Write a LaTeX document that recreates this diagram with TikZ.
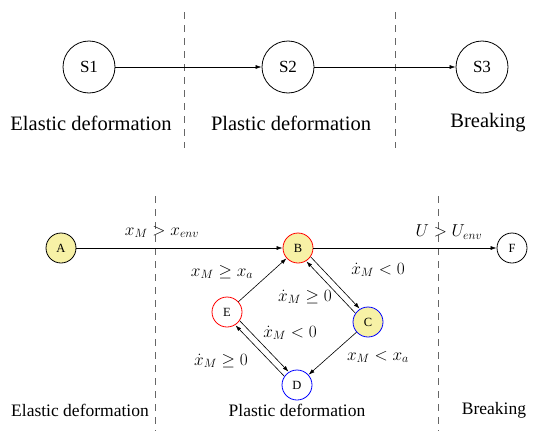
\documentclass[tikz,border=0pt]{standalone}
\usepackage[no-math]{fontspec}
\setmainfont{Liberation Serif}
\usetikzlibrary{arrows.meta,calc}
\begin{document}
\begin{tikzpicture}[x=1pt,y=-1pt,
  st/.style={circle,draw,line width=0.8pt,minimum size=52pt,inner sep=0pt,font=\fontsize{17}{20}\selectfont},
  sm/.style={circle,draw,line width=0.8pt,minimum size=30pt,inner sep=0pt,font=\fontsize{12.5}{14}\selectfont},
  arr/.style={-{Latex[length=6pt,width=4pt]},line width=0.6pt},
  dsh/.style={dashed,dash pattern=on 7pt off 6pt,line width=0.6pt,gray!80!black},
  toplab/.style={font=\fontsize{20.5}{24}\selectfont},
  botlab/.style={font=\fontsize{17.5}{20}\selectfont},
  ml/.style={font=\fontsize{17}{20}\selectfont,inner sep=1pt}]
\useasboundingbox (0,0) rectangle (534,431);
\definecolor{yfill}{HTML}{F7F1A6}
% top
\coordinate (t1a) at (184,12); \coordinate (t1b) at (184,148);
\coordinate (t2a) at (395,12); \coordinate (t2b) at (395,148);
\draw[dsh] (t1a) -- (t1b);
\draw[dsh] (t2a) -- (t2b);
\node[st] (S1) at (89,67) {S1};
\node[st] (S2) at (288,67) {S2};
\node[st] (S3) at (482,67) {S3};
\draw[arr] (S1) -- (S2);
\draw[arr] (S2) -- (S3);
\node[toplab] (l1) at (91,123) {Elastic deformation};
\node[toplab] (l2) at (291,123) {Plastic deformation};
\node[toplab] (l3) at (488,123) {Breaking};
% bottom
\coordinate (b1a) at (155,196); \coordinate (b1b) at (155,431);
\coordinate (b2a) at (438,196); \coordinate (b2b) at (438,431);
\draw[dsh] (b1a) -- (b1b);
\draw[dsh] (b2a) -- (b2b);
\node[sm,fill=yfill] (A) at (61,248) {A};
\node[sm,fill=yfill,draw=red] (B) at (298,248) {B};
\node[sm] (F) at (512,248) {F};
\node[sm,fill=yfill,draw=blue] (C) at (368,322) {C};
\node[sm,draw=blue] (D) at (297,385) {D};
\node[sm,draw=red] (E) at (227,312) {E};
\draw[arr] (A) -- (B);
\draw[arr] (B) -- (F);
\draw[arr] (E) -- (B);
\draw[arr] (C) -- (D);
\draw[arr,transform canvas={shift={(2.2pt,2.2pt)}}] (B) -- (C);
\draw[arr,transform canvas={shift={(-2.2pt,-2.2pt)}}] (C) -- (B);
\draw[arr,transform canvas={shift={(2.2pt,2.2pt)}}] (E) -- (D);
\draw[arr,transform canvas={shift={(-2.2pt,-2.2pt)}}] (D) -- (E);
\node[ml] (m1) at (162,232) {$x_M > x_{env}$};
\node[ml] (m2) at (449,232) {$U > U_{env}$};
\node[ml] (m3) at (222,272) {$x_M \geq x_a$};
\node[ml] (m4) at (378,270) {$\dot x_M < 0$};
\node[ml] (m5) at (305,297) {$\dot x_M \geq 0$};
\node[ml] (m6) at (290,333) {$\dot x_M < 0$};
\node[ml] (m7) at (221,361) {$\dot x_M \geq 0$};
\node[ml] (m8) at (378,357) {$x_M < x_a$};
\node[botlab] (k1) at (80,410) {Elastic deformation};
\node[botlab] (k2) at (297,410) {Plastic deformation};
\node[botlab] (k3) at (494,410) {Breaking};
\end{tikzpicture}
\end{document}
